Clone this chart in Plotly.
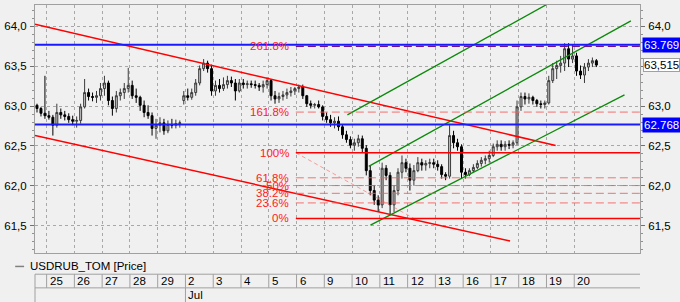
import plotly.graph_objects as go

# ---------------- data ----------------
day_labels = ['25', '26', '27', '28', '29', '2', '3', '4', '5', '6',
              '9', '10', '11', '12', '13', '16', '17', '18', '19', '20']
month_labels = [(5, 'Jul')]

bar_open = [63.01, 62.97, 62.91, 62.88, 62.86, 62.76, 62.92, 62.89, 62.87, 62.83,
            62.81, 62.82, 62.99, 63.17, 63.12, 63.11, 63.13, 63.22, 63.29, 63.07,
            62.97, 63.13, 63.17, 63.22, 63.26, 63.13, 63.11, 63.01, 62.92, 62.88,
            62.72, 62.76, 62.79, 62.69, 62.77, 62.76, 62.78, 63.07, 63.13, 63.11,
            63.17, 63.29, 63.47, 63.54, 63.47, 63.19, 63.26, 63.22, 63.27, 63.32,
            63.29, 63.19, 63.29, 63.27, 63.28, 63.27, 63.26, 63.24, 63.27, 63.32,
            63.13, 63.09, 63.12, 63.14, 63.17, 63.19, 63.22, 63.24, 63.13, 63.03,
            63.01, 63.02, 62.99, 62.87, 62.83, 62.79, 62.81, 62.74, 62.64, 62.58,
            62.51, 62.54, 62.59, 62.47, 62.19, 61.94, 61.82, 61.76, 62.22, 62.13,
            61.76, 61.94, 62.17, 62.29, 62.22, 62.07, 62.19, 62.29, 62.26, 62.28,
            62.29, 62.27, 62.24, 62.14, 62.12, 62.63, 62.54, 62.49, 62.17, 62.14,
            62.19, 62.23, 62.28, 62.32, 62.34, 62.38, 62.49, 62.52, 62.49, 62.52,
            62.51, 62.54, 62.99, 63.12, 63.09, 63.11, 63.07, 63.03, 63.02, 63.04,
            63.32, 63.47, 63.51, 63.54, 63.72, 63.59, 63.63, 63.44, 63.39, 63.49,
            63.54, 63.57]
bar_high = [63.03, 62.99, 63.38, 62.94, 62.89, 63.03, 62.97, 62.94, 62.91, 62.88,
            62.87, 63.03, 63.34, 63.22, 63.17, 63.19, 63.29, 63.38, 63.32, 63.12,
            63.19, 63.22, 63.29, 63.48, 63.32, 63.22, 63.13, 63.07, 63.01, 62.92,
            62.84, 62.86, 62.84, 62.82, 62.84, 62.83, 62.82, 63.19, 63.22, 63.22,
            63.34, 63.51, 63.59, 63.57, 63.52, 63.32, 63.34, 63.36, 63.38, 63.37,
            63.34, 63.34, 63.34, 63.32, 63.32, 63.32, 63.29, 63.32, 63.36, 63.34,
            63.19, 63.17, 63.19, 63.22, 63.24, 63.24, 63.27, 63.27, 63.14, 63.07,
            63.04, 63.07, 63.01, 62.92, 62.89, 62.86, 62.87, 62.77, 62.69, 62.62,
            62.59, 62.64, 62.63, 62.51, 62.26, 62.01, 61.88, 62.29, 62.26, 62.17,
            62.01, 62.22, 62.38, 62.34, 62.28, 62.26, 62.36, 62.34, 62.32, 62.34,
            62.34, 62.32, 62.27, 62.17, 62.76, 62.69, 62.59, 62.52, 62.22, 62.22,
            62.27, 62.32, 62.36, 62.38, 62.44, 62.53, 62.57, 62.57, 62.56, 62.57,
            62.57, 63.07, 63.17, 63.17, 63.16, 63.13, 63.09, 63.07, 63.07, 63.38,
            63.54, 63.57, 63.63, 63.79, 63.79, 63.77, 63.67, 63.51, 63.54, 63.59,
            63.61, 63.59]
bar_low = [62.92, 62.87, 62.84, 62.83, 62.63, 62.73, 62.84, 62.82, 62.79, 62.76,
           62.73, 62.78, 62.97, 63.07, 63.06, 63.04, 63.07, 63.13, 63.01, 62.88,
           62.92, 63.07, 63.09, 63.17, 63.09, 63.04, 62.94, 62.86, 62.84, 62.63,
           62.59, 62.67, 62.64, 62.66, 62.72, 62.72, 62.73, 63.02, 63.07, 63.08,
           63.13, 63.26, 63.44, 63.42, 63.13, 63.13, 63.17, 63.19, 63.22, 63.24,
           63.07, 63.17, 63.22, 63.22, 63.23, 63.22, 63.19, 63.17, 63.22, 63.07,
           63.03, 63.04, 63.07, 63.09, 63.12, 63.14, 63.17, 63.09, 62.99, 62.97,
           62.97, 62.97, 62.82, 62.79, 62.74, 62.72, 62.69, 62.59, 62.54, 62.47,
           62.44, 62.49, 62.42, 62.13, 61.88, 61.76, 61.67, 61.72, 62.07, 61.63,
           61.67, 61.88, 62.09, 62.17, 61.94, 62.01, 62.17, 62.19, 62.19, 62.22,
           62.22, 62.19, 62.09, 62.07, 62.09, 62.47, 62.44, 62.09, 62.09, 62.12,
           62.17, 62.21, 62.24, 62.27, 62.29, 62.36, 62.44, 62.44, 62.44, 62.46,
           62.47, 62.51, 62.94, 63.02, 63.03, 63.02, 62.99, 62.97, 62.97, 63.02,
           63.29, 63.34, 63.42, 63.44, 63.49, 63.54, 63.38, 63.34, 63.29, 63.44,
           63.49, 63.49]
bar_close = [62.97, 62.91, 62.88, 62.86, 62.76, 62.92, 62.89, 62.87, 62.83, 62.81,
             62.82, 62.99, 63.17, 63.12, 63.11, 63.13, 63.22, 63.29, 63.07, 62.97,
             63.13, 63.17, 63.22, 63.26, 63.13, 63.11, 63.01, 62.92, 62.88, 62.72,
             62.76, 62.79, 62.69, 62.77, 62.76, 62.78, 62.79, 63.13, 63.11, 63.17,
             63.29, 63.47, 63.54, 63.47, 63.19, 63.26, 63.22, 63.27, 63.32, 63.29,
             63.19, 63.29, 63.27, 63.28, 63.27, 63.26, 63.24, 63.27, 63.32, 63.13,
             63.09, 63.12, 63.14, 63.17, 63.19, 63.22, 63.24, 63.13, 63.03, 63.01,
             63.02, 62.99, 62.87, 62.83, 62.79, 62.81, 62.74, 62.64, 62.58, 62.51,
             62.54, 62.59, 62.47, 62.19, 61.94, 61.82, 61.76, 62.22, 62.13, 61.76,
             61.94, 62.17, 62.29, 62.22, 62.07, 62.19, 62.29, 62.26, 62.28, 62.29,
             62.27, 62.24, 62.14, 62.12, 62.63, 62.54, 62.49, 62.17, 62.14, 62.19,
             62.23, 62.28, 62.32, 62.34, 62.38, 62.49, 62.52, 62.49, 62.52, 62.51,
             62.54, 62.99, 63.12, 63.09, 63.11, 63.07, 63.03, 63.02, 63.04, 63.32,
             63.47, 63.51, 63.54, 63.72, 63.59, 63.63, 63.44, 63.39, 63.49, 63.54,
             63.57, 63.515]
bar_x = [-0.346 + i / 7 for i in range(len(bar_close))]  # 7 bars per trading day

level_blue = [63.769, 62.768]
last_price = 63.515

# drawn trend lines: (day0, price0, day1, price1)
red_lines = [(-0.418, 64.028, 18.33, 62.506),
             (-0.418, 62.631, 16.69, 61.306)]
green_lines = [(10.83, 62.89, 17.98, 64.27),
               (11.60, 62.244, 21.04, 64.069),
               (11.66, 61.506, 20.81, 63.14)]

fib_high = 62.415
fib_low = 61.59
fib_start_day = 8.975
fib_low_day = 13.225
fib_ratios = [0.0, 0.236, 0.382, 0.5, 0.618, 1.0, 1.618, 2.618]
fib_texts = ['0%', '23.6%', '38.2%', '50%', '61.8%', '100%', '161.8%', '261.8%']

y_ticks = [61.5, 62.0, 62.5, 63.0, 63.5, 64.0]
y_ticktext = ['61,5', '62,0', '62,5', '63,0', '63,5', '64,0']
y_ticktext_right = ['61,5', '62,0', '62,5', '63,0', '', '64,0']  # 63,5 hidden by last-price tag

# ---------------- layout geometry ----------------
W, H = 680, 302
ML, MR, MT, MB = 30, 40, 4, 49
PW = W - ML - MR
PH = H - MT - MB
XMIN, XMAX = -0.418, 21.368
YMIN, YMAX = 61.156, 64.269
BG = '#f0f0f0'
FONT = 'Liberation Sans, Arial, sans-serif'
FS = 11.5


def py2p(py):
    return (H - MB - py) / PH


def px2p(px):
    return (px - ML) / PW


fig = go.Figure()

fig.add_trace(go.Candlestick(
    x=bar_x, open=bar_open, high=bar_high, low=bar_low, close=bar_close,
    increasing=dict(line=dict(color='#3a3a3a', width=1), fillcolor='#c8c8c8'),
    decreasing=dict(line=dict(color='#000000', width=1), fillcolor='#000000'),
    whiskerwidth=0, showlegend=False, hoverinfo='skip'))

# blue horizontal levels
for lv in level_blue:
    fig.add_trace(go.Scatter(x=[XMIN, XMAX], y=[lv, lv], mode='lines',
                             line=dict(color='#1a1aff', width=2),
                             showlegend=False, hoverinfo='skip', yaxis='y2'))

# red channel
for x0, y0, x1, y1 in red_lines:
    fig.add_trace(go.Scatter(x=[x0, x1], y=[y0, y1], mode='lines',
                             line=dict(color='#ff0000', width=1.5),
                             showlegend=False, hoverinfo='skip'))

# green channel
for x0, y0, x1, y1 in green_lines:
    fig.add_trace(go.Scatter(x=[x0, x1], y=[y0, y1], mode='lines',
                             line=dict(color='#0a8a0a', width=1.3),
                             showlegend=False, hoverinfo='skip'))

# fibonacci
fib_range = fib_high - fib_low
fig.add_trace(go.Scatter(x=[fib_start_day, fib_low_day], y=[fib_high, fib_low], mode='lines',
                         line=dict(color='rgba(255,80,80,0.55)', width=1, dash='4px,3px'),
                         showlegend=False, hoverinfo='skip'))
for r, t in zip(fib_ratios, fib_texts):
    lv = fib_low + r * fib_range
    if r in (0.0, 1.0):
        ln = dict(color='#ff0000', width=1.5)
    elif r == 2.618:
        ln = dict(color='#70108a', width=1.3, dash='8px,4px')
    else:
        ln = dict(color='rgba(245,90,90,0.85)', width=1, dash='8px,4px')
    fig.add_trace(go.Scatter(x=[fib_start_day, XMAX], y=[lv, lv], mode='lines', line=ln,
                             showlegend=False, hoverinfo='skip'))
    fig.add_annotation(x=fib_start_day - 0.18, y=lv, xref='x', yref='y', text=t,
                       showarrow=False, xanchor='right', yanchor='middle',
                       font=dict(family=FONT, size=FS, color='#ff2020'))

# right-side price tags
for lv in level_blue:
    fig.add_annotation(x=1, y=lv, xref='paper', yref='y2', text=f'{lv:.3f}',
                       showarrow=False, xanchor='left', yanchor='middle', xshift=2,
                       bgcolor='#0000ff', borderpad=1,
                       font=dict(family=FONT, size=FS, color='#ffffff'))
fig.add_annotation(x=1, y=last_price, xref='paper', yref='y2',
                   text=f'{last_price:.3f}'.replace('.', ','),
                   showarrow=False, xanchor='left', yanchor='middle', xshift=3,
                   bgcolor='#ffffff', bordercolor='#a0a0a0', borderwidth=1, borderpad=0,
                   font=dict(family=FONT, size=FS, color='#000000'))

# legend line
shapes = [dict(type='line', xref='paper', yref='paper', x0=px2p(10), x1=px2p(19),
               y0=py2p(266.5), y1=py2p(266.5), line=dict(color='#808080', width=1.5))]
fig.add_annotation(x=px2p(23), y=py2p(266.5), xref='paper', yref='paper',
                   text='USDRUB_TOM [Price]', showarrow=False, xanchor='left', yanchor='middle',
                   font=dict(family=FONT, size=FS, color='#000000'))

# date strip
STRIP_TOP, STRIP_MID, STRIP_BOT = 274.3, 288.0, 304
LC = '#a0a0a0'
for yy in (STRIP_TOP, STRIP_MID):
    shapes.append(dict(type='line', xref='paper', yref='paper', x0=0, x1=1,
                       y0=py2p(yy), y1=py2p(yy), line=dict(color=LC, width=1)))
shapes.append(dict(type='line', xref='paper', yref='paper', x0=0, x1=0,
                   y0=py2p(STRIP_TOP), y1=py2p(STRIP_BOT), line=dict(color=LC, width=1)))
for k, lab in enumerate(day_labels):
    shapes.append(dict(type='line', xref='x', yref='paper', x0=k, x1=k,
                       y0=py2p(STRIP_TOP), y1=py2p(STRIP_MID), line=dict(color=LC, width=1)))
    fig.add_annotation(x=k, y=py2p(281.3), xref='x', yref='paper', text=lab,
                       showarrow=False, xanchor='left', yanchor='middle', xshift=1,
                       font=dict(family=FONT, size=FS, color='#000000'))
for k, lab in month_labels:
    shapes.append(dict(type='line', xref='x', yref='paper', x0=k, x1=k,
                       y0=py2p(STRIP_MID), y1=py2p(STRIP_BOT), line=dict(color=LC, width=1)))
    fig.add_annotation(x=k, y=py2p(295.5), xref='x', yref='paper', text=lab,
                       showarrow=False, xanchor='left', yanchor='middle', xshift=1,
                       font=dict(family=FONT, size=FS, color='#000000'))

yaxis_common = dict(range=[YMIN, YMAX], tickmode='array', tickvals=y_ticks,
                    ticks='outside', ticklen=4, tickcolor='#707070', zeroline=False,
                    tickfont=dict(family=FONT, size=FS, color='#000000'),
                    minor=dict(tickmode='linear', tick0=61.5, dtick=0.1, ticks='outside',
                               ticklen=2, tickcolor='#909090', showgrid=False),
                    fixedrange=True)

fig.update_layout(
    width=W, height=H, margin=dict(l=ML, r=MR, t=MT, b=MB, pad=0),
    paper_bgcolor=BG, plot_bgcolor=BG, showlegend=False,
    font=dict(family=FONT, size=FS, color='#000000'),
    xaxis=dict(range=[XMIN, XMAX], tickmode='array', tickvals=list(range(len(day_labels))),
               showticklabels=False, ticks='', showgrid=True, gridcolor='#a8a8a8',
               griddash='dot', gridwidth=1, zeroline=False, showline=True, mirror=True,
               linecolor='#a0a0a0', linewidth=1, rangeslider=dict(visible=False),
               fixedrange=True),
    yaxis=dict(side='left', showgrid=True, gridcolor='#a8a8a8', griddash='dot', gridwidth=1,
               showline=True, mirror=True, linecolor='#a0a0a0', linewidth=1,
               ticklabelstandoff=1, ticktext=y_ticktext, **yaxis_common),
    yaxis2=dict(side='right', overlaying='y', showgrid=False, showline=False,
                ticklabelstandoff=1, ticktext=y_ticktext_right, **yaxis_common),
    shapes=shapes,
)

fig.write_html('out.html')
